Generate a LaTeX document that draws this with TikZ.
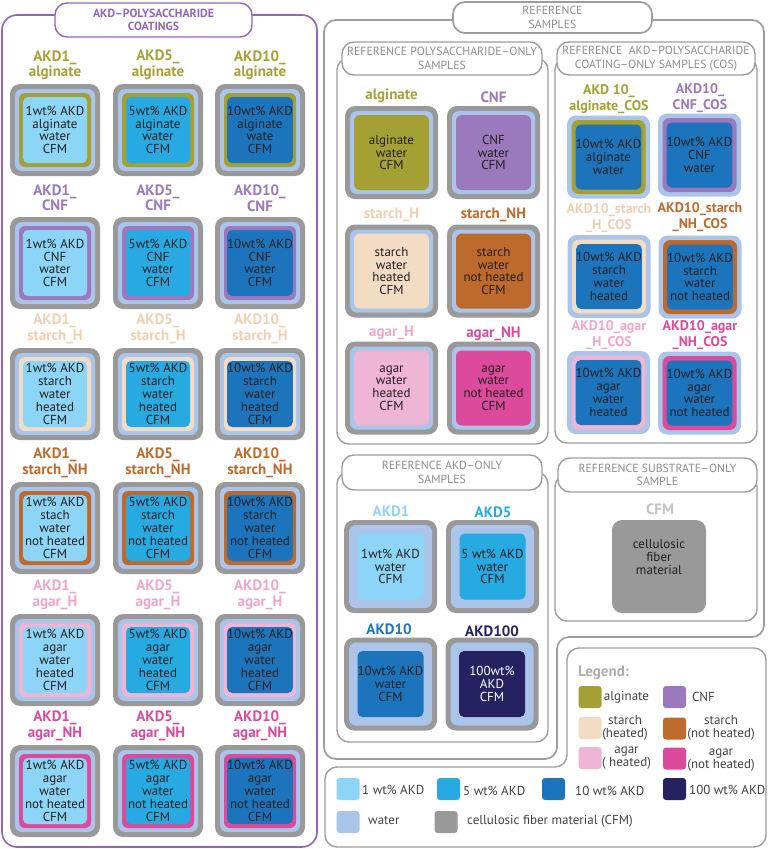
\documentclass[tikz,border=0pt]{standalone}
\usepackage{fontspec}
\setmainfont{PT Sans}
\definecolor{alginate}{HTML}{A5A033}
\definecolor{cnf}{HTML}{9B79BC}
\definecolor{starchH}{HTML}{F3DCC4}
\definecolor{starchHtext}{HTML}{F2CFB0}
\definecolor{starchNH}{HTML}{BE6A2D}
\definecolor{agarH}{HTML}{EEB5D4}
\definecolor{agarHtext}{HTML}{F2A5CB}
\definecolor{agarNH}{HTML}{DC4A9B}
\definecolor{akdI}{HTML}{8DD5F6}
\definecolor{akdV}{HTML}{27AAE1}
\definecolor{akdX}{HTML}{1C75BC}
\definecolor{akdC}{HTML}{262262}
\definecolor{water}{HTML}{AAC5E9}
\definecolor{cfm}{HTML}{999999}
\definecolor{framepurple}{HTML}{9563BA}
\definecolor{framegray}{HTML}{9D9D9D}
\definecolor{ink}{HTML}{231F20}
\tikzset{
    ply/.style={rounded corners=#1pt, inner sep=0pt},
    core/.style={text=ink, align=center, font=\fontsize{13}{12.8}\selectfont},
    sampletag/.style={font=\bfseries\fontsize{15}{15.5}\selectfont, align=center, inner sep=0pt},
    costag/.style={sampletag, font=\bfseries\fontsize{14}{16}\selectfont},
    panel/.style={draw=framegray, line width=1.4pt, rounded corners=12pt},
    heading/.style={panel, fill=white, text=framegray!90!black, align=center,
        font=\fontsize{11.8}{13.5}\selectfont, inner sep=0pt},
    swatch/.style={rounded corners=3pt, minimum width=23pt, minimum height=22pt, inner sep=0pt},
    keytext/.style={text=ink!85, font=\fontsize{13}{13}\selectfont, align=center, inner sep=0pt}
}
% AKD-polysaccharide coated sample: CFM, water, polysaccharide, AKD
\newcommand{\coated}[6]{%
    \node[ply=10, fill=cfm, minimum width=90pt, minimum height=92pt] (#1) at (#2,#3) {};
    \node[ply=7, fill=water, minimum width=80pt, minimum height=82pt] (#1w) at (#1) {};
    \node[ply=6, fill=#4, minimum width=72pt, minimum height=74pt] (#1p) at (#1) {};
    \node[ply=5, fill=#5, minimum width=64pt, minimum height=66pt, core] (#1c) at (#1) {#6};}
% polysaccharide-only reference
\newcommand{\polyonly}[5]{%
    \node[ply=10, fill=cfm, minimum width=93pt, minimum height=93pt] (#1) at (#2,#3) {};
    \node[ply=7, fill=water, minimum width=83pt, minimum height=83pt] (#1w) at (#1) {};
    \node[ply=6, fill=#4, minimum width=75pt, minimum height=75pt, core] (#1c) at (#1) {#5};}
% coating-only reference (no CFM)
\newcommand{\coatonly}[5]{%
    \node[ply=9, fill=water, minimum width=83pt, minimum height=83pt] (#1) at (#2,#3) {};
    \node[ply=7, fill=#4, minimum width=74pt, minimum height=74pt] (#1p) at (#1) {};
    \node[ply=5, fill=akdX, minimum width=65pt, minimum height=65pt, core] (#1c) at (#1) {#5};}
% AKD-only reference
\newcommand{\akdonly}[6]{%
    \node[ply=10, fill=cfm, minimum width=93pt, minimum height=93pt] (#1) at (#2,#3) {};
    \node[ply=7, fill=water, minimum width=83pt, minimum height=83pt] (#1w) at (#1) {};
    \node[ply=5, fill=#4, minimum width=66pt, minimum height=66pt, core, text=#6] (#1c) at (#1) {#5};}
\begin{document}
\begin{tikzpicture}[x=1pt,y=-1pt]
    \useasboundingbox (0,0) rectangle (769,849);
    % left panel
    \draw[draw=framepurple, line width=1.6pt, rounded corners=15pt] (2,15) rectangle (317,847);
    \node[heading, draw=framepurple, text=framepurple, font=\bfseries\fontsize{11.8}{13.5}\selectfont,
        minimum width=197pt, minimum height=34pt] (coatTitle) at (153.5,20) {AKD–POLYSACCHARIDE\\COATINGS};
    % right panels
    \draw[panel, line width=1.7pt] (544,20) -- (764,20) -- (764,637) -- (557,637) -- (557,759)
        -- (324,759) -- (324,20) -- cycle;
    \node[heading, line width=1.7pt, minimum width=199pt, minimum height=31pt] (refTitle) at (552.5,17.5) {REFERENCE\\SAMPLES};
    \draw[panel] (337,58) rectangle (548,444);
    \node[heading, minimum width=200pt, minimum height=33pt] (polyTitle) at (442,58.5)
        {REFERENCE POLYSACCHARIDE–ONLY\\SAMPLES};
    \draw[panel] (555,58) rectangle (757,443);
    \node[heading, minimum width=198pt, minimum height=33pt] (cosTitle) at (656,58.5)
        {REFERENCE~ AKD–POLYSACCHARIDE\\COATING–ONLY SAMPLES (COS)};
    \draw[panel] (337,472) rectangle (548,742);
    \node[heading, minimum width=200pt, minimum height=35pt] (akdTitle) at (442,472.5)
        {REFERENCE AKD–ONLY\\SAMPLES};
    \draw[panel] (555,475) rectangle (757,621);
    \node[heading, minimum width=199pt, minimum height=34pt] (subTitle) at (657.5,475)
        {REFERENCE SUBSTRATE–ONLY\\SAMPLE};
    \draw[panel] (666,648) -- (766,648) -- (766,847) -- (325,847) -- (325,767) -- (567,767)
        -- (567,648) -- cycle;

    % AKD-polysaccharide coatings
    \node[sampletag, text=alginate] (la1) at (55,65) {AKD1\_\\alginate};
    \node[sampletag, text=alginate] (la5) at (158,65) {AKD5\_\\alginate};
    \node[sampletag, text=alginate] (la10) at (260,65) {AKD10\_\\alginate};
    \coated{a1}{55}{130}{alginate}{akdI}{1wt\% AKD\\alginate\\water\\CFM}
    \coated{a5}{158}{130}{alginate}{akdV}{5wt\% AKD\\alginate\\water\\CFM}
    \coated{a10}{260}{130}{alginate}{akdX}{10wt\% AKD\\alginate\\wate\\CFM}
    \node[sampletag, text=cnf] (lc1) at (55,198) {AKD1\_\\CNF};
    \node[sampletag, text=cnf] (lc5) at (158,198) {AKD5\_\\CNF};
    \node[sampletag, text=cnf] (lc10) at (260,198) {AKD10\_\\CNF};
    \coated{c1}{55}{263}{cnf}{akdI}{1wt\% AKD\\CNF\\water\\CFM}
    \coated{c5}{158}{263}{cnf}{akdV}{5wt\% AKD\\CNF\\water\\CFM}
    \coated{c10}{260}{263}{cnf}{akdX}{10wt\% AKD\\CNF\\water\\CFM}
    \node[sampletag, text=starchHtext] (lsh1) at (55,329) {AKD1\_\\starch\_H};
    \node[sampletag, text=starchHtext] (lsh5) at (158,329) {AKD5\_\\starch\_H};
    \node[sampletag, text=starchHtext] (lsh10) at (260,329) {AKD10\_\\starch\_H};
    \coated{sh1}{55}{394}{starchH}{akdI}{1wt\% AKD\\starch\\water\\heated\\CFM}
    \coated{sh5}{158}{394}{starchH}{akdV}{5wt\% AKD\\starch\\water\\heated\\CFM}
    \coated{sh10}{260}{394}{starchH}{akdX}{10wt\% AKD\\starch\\water\\heated\\CFM}
    \node[sampletag, text=starchNH] (lsn1) at (55,463) {AKD1\_\\starch\_NH};
    \node[sampletag, text=starchNH] (lsn5) at (158,463) {AKD5\_\\starch\_NH};
    \node[sampletag, text=starchNH] (lsn10) at (260,463) {AKD10\_\\starch\_NH};
    \coated{sn1}{55}{528}{starchNH}{akdI}{1wt\% AKD\\stach\\water\\not heated\\CFM}
    \coated{sn5}{158}{528}{starchNH}{akdV}{5wt\% AKD\\starch\\water\\not heated\\CFM}
    \coated{sn10}{260}{528}{starchNH}{akdX}{10wt\% AKD\\starch\\water\\not heated\\CFM}
    \node[sampletag, text=agarHtext] (lah1) at (55,595) {AKD1\_\\agar\_H};
    \node[sampletag, text=agarHtext] (lah5) at (158,595) {AKD5\_\\agar\_H};
    \node[sampletag, text=agarHtext] (lah10) at (260,595) {AKD10\_\\agar\_H};
    \coated{ah1}{55}{660}{agarH}{akdI}{1wt\% AKD\\agar\\water\\heated\\CFM}
    \coated{ah5}{158}{660}{agarH}{akdV}{5wt\% AKD\\agar\\water\\heated\\CFM}
    \coated{ah10}{260}{660}{agarH}{akdX}{10wt\% AKD\\agar\\water\\heated\\CFM}
    \node[sampletag, text=agarNH] (lan1) at (55,726) {AKD1\_\\agar\_NH};
    \node[sampletag, text=agarNH] (lan5) at (158,726) {AKD5\_\\agar\_NH};
    \node[sampletag, text=agarNH] (lan10) at (260,726) {AKD10\_\\agar\_NH};
    \coated{an1}{55}{791}{agarNH}{akdI}{1wt\% AKD\\agar\\water\\not heated\\CFM}
    \coated{an5}{158}{791}{agarNH}{akdV}{5wt\% AKD\\agar\\water\\not heated\\CFM}
    \coated{an10}{260}{791}{agarNH}{akdX}{10wt\% AKD\\agar\\water\\not heated\\CFM}

    % polysaccharide-only references
    \node[sampletag, text=alginate] (lpa) at (391.5,96) {alginate};
    \node[sampletag, text=cnf] (lpc) at (493.5,97) {CNF};
    \polyonly{pa}{391.5}{152.5}{alginate}{alginate\\water\\CFM}
    \polyonly{pc}{493.5}{152.5}{cnf}{CNF\\water\\CFM}
    \node[sampletag, text=starchHtext] (lpsh) at (391.5,215) {starch\_H};
    \node[sampletag, text=starchNH] (lpsn) at (493.5,215) {starch\_NH};
    \polyonly{psh}{391.5}{271}{starchH}{starch\\water\\heated\\CFM}
    \polyonly{psn}{493.5}{271}{starchNH}{starch\\water\\not heated\\CFM}
    \node[sampletag, text=agarHtext] (lpah) at (391.5,333) {agar\_H};
    \node[sampletag, text=agarNH] (lpan) at (493.5,334) {agar\_NH};
    \polyonly{pah}{391.5}{388}{agarH}{agar\\water\\heated\\CFM}
    \polyonly{pan}{493.5}{388}{agarNH}{agar\\water\\not heated\\CFM}

    % coating-only references
    \node[costag, text=alginate] (lca) at (609,99.5) {AKD 10\_\\alginate\_COS};
    \node[costag, text=cnf] (lcc) at (700,98) {AKD10\_\\CNF\_COS};
    \coatonly{ca}{608.5}{157}{alginate}{10wt\% AKD\\alginate\\water}
    \coatonly{cc}{699.5}{155}{cnf}{10wt\% AKD\\CNF\\water}
    \node[costag, text=starchHtext] (lcsh) at (609,218) {AKD10\_starch\\\_H\_COS};
    \node[costag, text=starchNH] (lcsn) at (700,217) {AKD10\_starch\\\_NH\_COS};
    \coatonly{csh}{609}{276.5}{starchH}{10wt\% AKD\\starch\\water\\heated}
    \coatonly{csn}{700}{277}{starchNH}{10wt\% AKD\\starch\\water\\not heated}
    \node[costag, text=agarHtext] (lcah) at (609,335.5) {AKD10\_agar\\\_H\_COS};
    \node[costag, text=agarNH] (lcan) at (700,335.5) {AKD10\_agar\\\_NH\_COS};
    \coatonly{cah}{608.5}{392.5}{agarH}{10wt\% AKD\\agar\\water\\heated}
    \coatonly{can}{699.5}{393}{agarNH}{10wt\% AKD\\agar\\water\\not heated}

    % AKD-only references
    \node[sampletag, text=akdI] (lk1) at (391,511) {AKD1};
    \node[sampletag, text=akdV] (lk5) at (493,512) {AKD5};
    \akdonly{k1}{390.5}{566.5}{akdI}{1wt\% AKD\\water\\CFM}{ink}
    \akdonly{k5}{492.5}{566.5}{akdV}{5 wt\% AKD\\water\\CFM}{ink}
    \node[sampletag, text=akdX] (lk10) at (389,629) {AKD10};
    \node[sampletag, text=akdC] (lk100) at (492,631) {AKD100};
    \akdonly{k10}{390.5}{684}{akdX}{10wt\% AKD\\water\\CFM}{ink}
    \akdonly{k100}{492}{684}{akdC}{100wt\%\\AKD\\CFM}{white}

    % substrate-only reference
    \node[sampletag, text=framegray!60] (lsub) at (660,509) {CFM};
    \node[ply=10, fill=cfm, minimum width=94pt, minimum height=93pt, core] (sub) at (659,566.5)
        {cellulosic\\fiber\\material\\[6pt]};

    % legend
    \node[font=\bfseries\fontsize{15}{15}\selectfont, text=framegray!85, anchor=west, inner sep=0pt]
        (legTitle) at (578,673) {Legend:};
    \node[swatch, fill=alginate] (sAlg) at (590,697) {};
    \node[keytext] (tAlg) at (626.5,697) {alginate};
    \node[swatch, fill=cnf] (sCnf) at (674.5,697) {};
    \node[keytext] (tCnf) at (703.5,697) {CNF};
    \node[swatch, fill=starchH] (sSh) at (590,728) {};
    \node[keytext] (tSh) at (625,728) {starch\\(heated)};
    \node[swatch, fill=starchNH] (sSn) at (674.5,728.5) {};
    \node[keytext] (tSn) at (721,728) {starch\\(not heated)};
    \node[swatch, fill=agarH] (sAh) at (590,758) {};
    \node[keytext] (tAh) at (626.5,758) {agar\\( heated)};
    \node[swatch, fill=agarNH] (sAn) at (674.5,758.5) {};
    \node[keytext] (tAn) at (721,760) {agar\\(not heated)};
    \node[swatch, fill=akdC] (sK100) at (674.5,789) {};
    \node[keytext, anchor=west] (tK100) at (689,790) {100 wt\% AKD};
    \node[swatch, fill=akdI] (sK1) at (348,789) {};
    \node[keytext, anchor=west] (tK1) at (362,790) {1 wt\% AKD};
    \node[swatch, fill=akdV] (sK5) at (448.5,789) {};
    \node[keytext, anchor=west] (tK5) at (463,791) {5 wt\% AKD};
    \node[swatch, fill=akdX] (sK10) at (553.5,789) {};
    \node[keytext, anchor=west] (tK10) at (575,791) {10 wt\% AKD};
    \node[swatch, fill=water] (sWat) at (348,822) {};
    \node[keytext, anchor=west] (tWat) at (368,821) {water};
    \node[swatch, fill=cfm] (sCfm) at (446,822) {};
    \node[keytext, anchor=west] (tCfm) at (467,821) {cellulosic fiber material (CFM)};
\end{tikzpicture}
\end{document}
